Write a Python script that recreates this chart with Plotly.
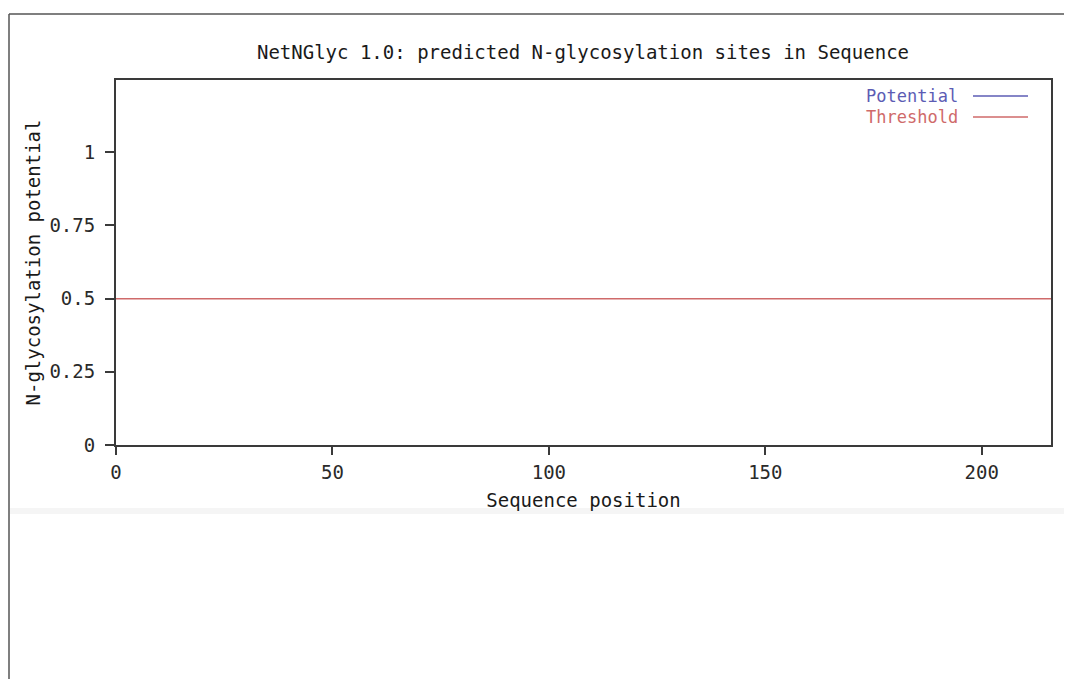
import plotly.graph_objects as go

# ---- data ----
threshold_x = [0, 216]
threshold_y = [0.5, 0.5]
potential_x = []
potential_y = []
x_tickvals = [0, 50, 100, 150, 200]
x_ticktext = ["0", "50", "100", "150", "200"]
y_tickvals = [0, 0.25, 0.5, 0.75, 1]
y_ticktext = ["0", "0.25", "0.5", "0.75", "1"]
series_names = ["Potential", "Threshold"]
series_colors = ["#5c5cb4", "#cf6a6a"]

FONT = "DejaVu Sans Mono"
FS = 19

# page has an 8px body margin: figure is placed at (8, 8) in the window
OFF = 8
WIN_W, WIN_H = 1072, 679
W, H = WIN_W - OFF, WIN_H - OFF
# plot area in window pixels: x 116..1051, y 80..445
L, R, T, B = 116 - OFF, WIN_W - 1051, 80 - OFF, WIN_H - 445
pw, ph = W - L - R, H - T - B

def px2x(px):
    return (px - OFF - L) / pw

def py2y(py):
    return (H - B - (py - OFF)) / ph

fig = go.Figure()
fig.add_trace(go.Scatter(x=potential_x, y=potential_y, mode="lines",
                         name=series_names[0], line=dict(color=series_colors[0], width=1.5),
                         showlegend=False))
fig.add_trace(go.Scatter(x=threshold_x, y=threshold_y, mode="lines",
                         name=series_names[1], line=dict(color=series_colors[1], width=1.5),
                         showlegend=False))

# manual legend (text then line sample, like gnuplot)
for i, (name, col) in enumerate(zip(series_names, series_colors)):
    yy = py2y(96 + 21 * i)
    fig.add_annotation(x=px2x(959), y=yy, xref="paper", yref="paper", text=name,
                       showarrow=False, xanchor="right", yanchor="middle", borderpad=0,
                       font=dict(family=FONT, size=17, color=col))
    fig.add_shape(type="line", xref="paper", yref="paper",
                  x0=px2x(973), x1=px2x(1028), y0=yy, y1=yy,
                  line=dict(color=col, width=1.5))

# page border (screenshot frame)
fig.add_shape(type="line", xref="paper", yref="paper",
              x0=px2x(9), x1=px2x(1072), y0=py2y(14), y1=py2y(14),
              line=dict(color="#555555", width=1.5))
fig.add_shape(type="line", xref="paper", yref="paper",
              x0=px2x(9), x1=px2x(9), y0=py2y(14), y1=py2y(679),
              line=dict(color="#555555", width=1.5))
fig.add_shape(type="rect", xref="paper", yref="paper",
              x0=px2x(10), x1=px2x(1072), y0=py2y(508), y1=py2y(514),
              line=dict(width=0), fillcolor="#f5f5f5", layer="below")

fig.update_layout(
    width=W, height=H,
    margin=dict(l=L, r=R, t=T, b=B, autoexpand=False),
    paper_bgcolor="white", plot_bgcolor="white",
    font=dict(family=FONT, size=FS, color="#2a2a2a"),
    title=dict(text="NetNGlyc 1.0: predicted N-glycosylation sites in Sequence",
               x=px2x(583), xref="paper", xanchor="center",
               y=1 - (52 - OFF) / H, yanchor="middle",
               font=dict(family=FONT, size=FS, color="#1a1a1a")),
    showlegend=False,
    xaxis=dict(range=[0, 216], tickvals=x_tickvals, ticktext=x_ticktext,
               showgrid=False, zeroline=False, showline=True, mirror=True,
               linecolor="#3a3a3a", linewidth=2, ticks="outside", ticklen=8,
               tickcolor="#3a3a3a", tickwidth=2, ticklabelstandoff=1,
               title=dict(text="Sequence position", standoff=12,
                          font=dict(family=FONT, size=FS, color="#1a1a1a"))),
    yaxis=dict(range=[0, 1.247], tickvals=y_tickvals, ticktext=y_ticktext,
               showgrid=False, zeroline=False, showline=True, mirror=True,
               linecolor="#3a3a3a", linewidth=2, ticks="outside", ticklen=9,
               tickcolor="#3a3a3a", tickwidth=2, ticklabelstandoff=6,
               title=dict(text="N-glycosylation potential", standoff=4,
                          font=dict(family=FONT, size=FS, color="#1a1a1a"))),
)

fig.write_html("out.html")
